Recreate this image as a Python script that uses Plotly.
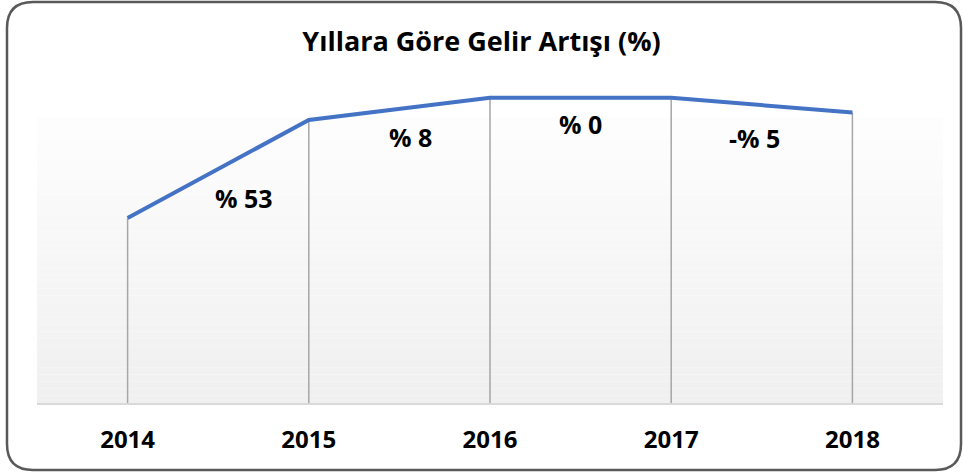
import plotly.graph_objects as go

years = [2014, 2015, 2016, 2017, 2018]
gelir = [100, 153, 165, 165, 157]
artis_labels = ["% 53", "% 8", "% 0", "-% 5"]
label_x = [2014.64, 2015.56, 2016.5, 2017.46]
label_y = [111, 144, 151, 143]
title = "Yıllara Göre Gelir Artışı (%)"

W, H = 963, 473
L, R, T, B = 37, 20, 90, 70
ymax = 169.2
grad_top = 154.6

fig = go.Figure()

# gradient background (bands)
n = 40
shapes = []
for i in range(n):
    y0 = grad_top * i / n
    y1 = grad_top * (i + 1) / n
    t = (i + 0.5) / n
    c = int(240 + (254 - 240) * t)
    shapes.append(dict(type="rect", xref="paper", yref="y", x0=0, x1=1, y0=y0, y1=y1,
                       fillcolor=f"rgb({c},{c},{c})", line=dict(width=0), layer="below"))

# rounded outer border in paper coords
pw, ph = W - L - R, H - T - B
def px(x):
    return (x - L) / pw
def py(y):
    return (H - B - y) / ph
x0b, x1b, y0b, y1b, r = 7, 961, 2, 470, 26
path = (f"M {px(x0b+r)} {py(y0b)} L {px(x1b-r)} {py(y0b)} Q {px(x1b)} {py(y0b)} {px(x1b)} {py(y0b+r)} "
        f"L {px(x1b)} {py(y1b-r)} Q {px(x1b)} {py(y1b)} {px(x1b-r)} {py(y1b)} "
        f"L {px(x0b+r)} {py(y1b)} Q {px(x0b)} {py(y1b)} {px(x0b)} {py(y1b-r)} "
        f"L {px(x0b)} {py(y0b+r)} Q {px(x0b)} {py(y0b)} {px(x0b+r)} {py(y0b)} Z")
shapes.append(dict(type="path", xref="paper", yref="paper", path=path,
                   line=dict(color="#595959", width=2.5), layer="above"))

# drop lines
dx, dy = [], []
for x, v in zip(years, gelir):
    dx += [x, x, None]
    dy += [0, v, None]
fig.add_trace(go.Scatter(x=dx, y=dy, mode="lines", line=dict(color="#a6a6a6", width=1.5),
                         hoverinfo="skip", showlegend=False))

fig.add_trace(go.Scatter(x=years, y=gelir, mode="lines", line=dict(color="#4472C4", width=4),
                         showlegend=False))

annotations = []
for x, y, t in zip(label_x, label_y, artis_labels):
    annotations.append(dict(x=x, y=y, xref="x", yref="y", text=f"<b>{t}</b>", showarrow=False,
                            font=dict(size=25, color="#000000", family="Open Sans")))

fig.update_layout(
    width=W, height=H,
    margin=dict(l=L, r=R, t=T, b=B),
    paper_bgcolor="white", plot_bgcolor="white",
    title=dict(text=f"<b>{title}</b>", x=0.5, xref="container", xanchor="center",
               y=1 - 42 / H, yanchor="middle",
               font=dict(size=27, color="#000000", family="Open Sans")),
    xaxis=dict(range=[2013.5, 2018.5], tickvals=years, ticktext=[f"<b>{y}</b>" for y in years],
               showgrid=False, zeroline=False, showline=True, linecolor="#d9d9d9", linewidth=2,
               ticks="", tickfont=dict(size=24, color="#000000", family="Open Sans"), ticklabelstandoff=14),
    yaxis=dict(range=[0, ymax], visible=False, showgrid=False, zeroline=False),
    shapes=shapes,
    annotations=annotations,
)

fig.write_html("out.html", config={"displayModeBar": False},
               post_script="document.body.style.margin='0';")
